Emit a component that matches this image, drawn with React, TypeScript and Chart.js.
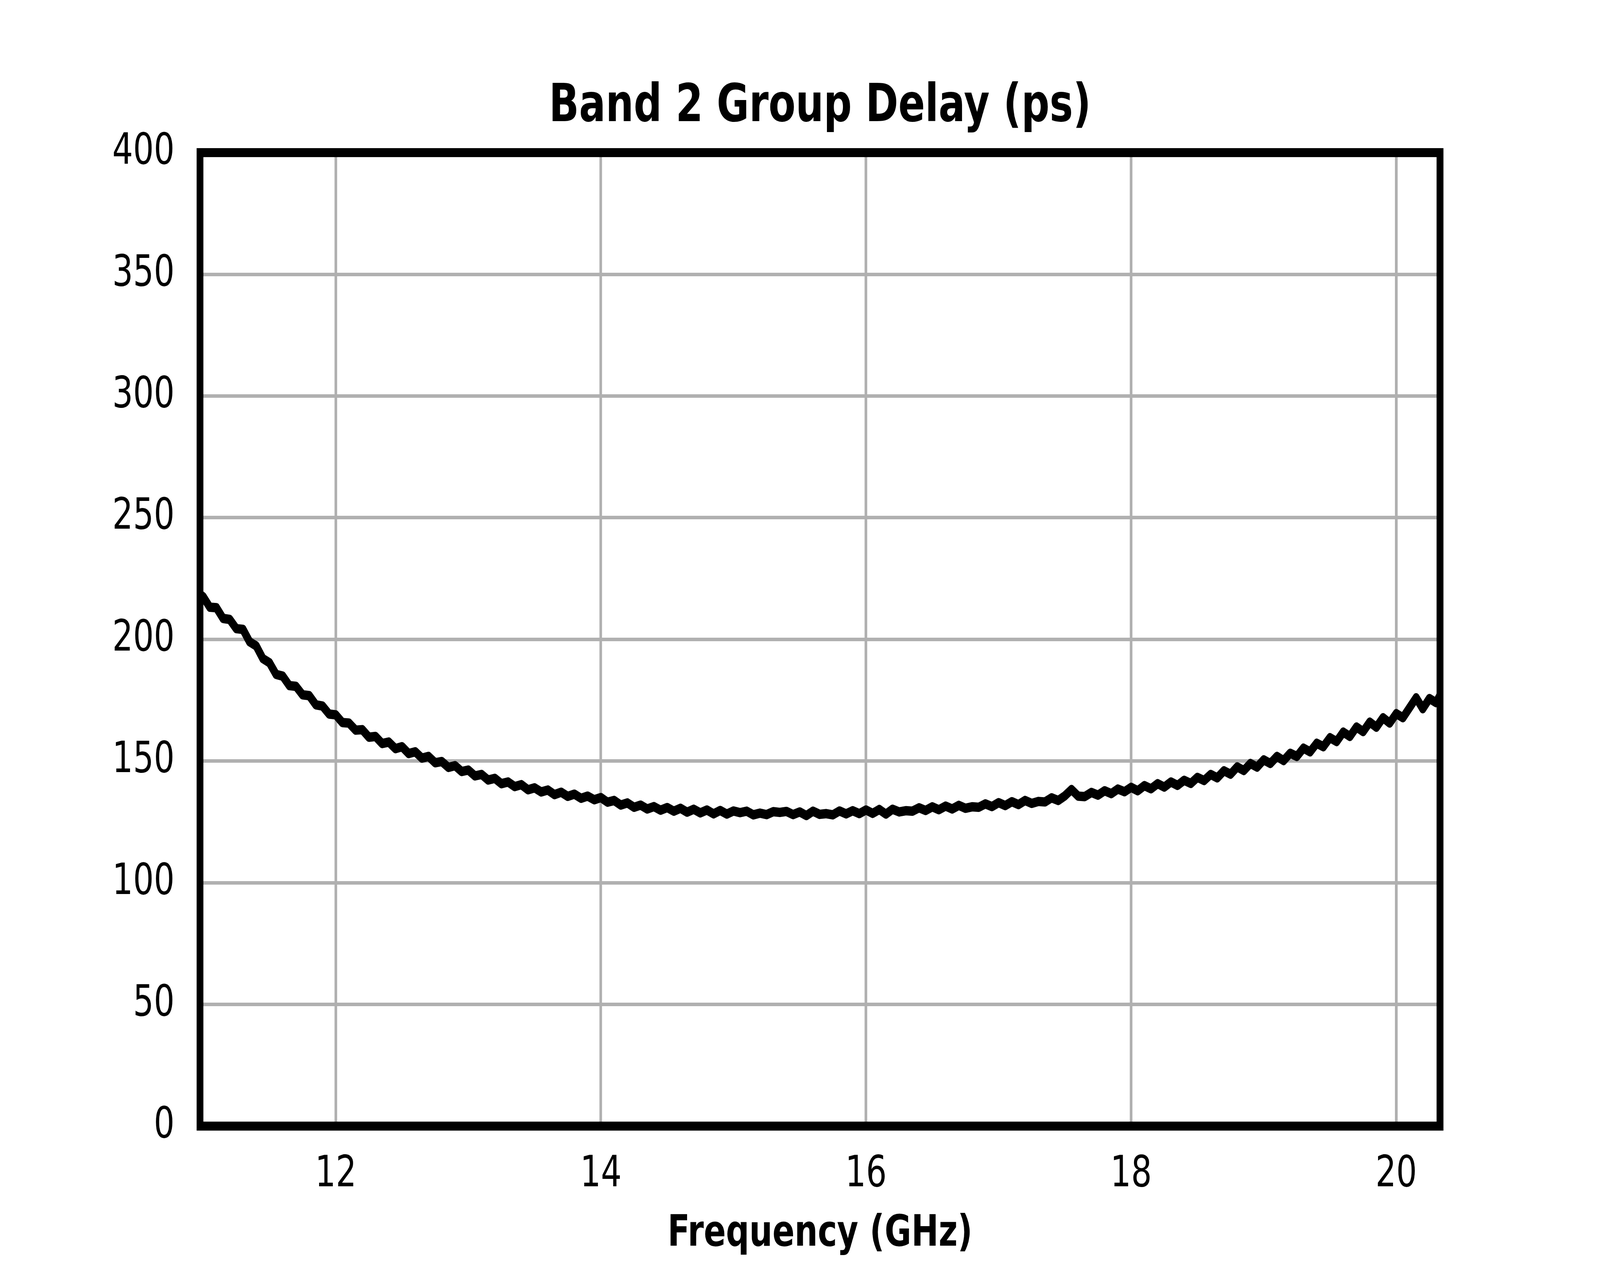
import { useEffect, useRef } from "react";
import { Chart, registerables } from "chart.js";

Chart.register(...registerables);

// Frequency samples (GHz)
const freqGHz = [
  10.976, 11.0, 11.05, 11.1, 11.15, 11.2, 11.25, 11.3, 11.35, 11.4,
  11.45, 11.5, 11.55, 11.6, 11.65, 11.7, 11.75, 11.8, 11.85, 11.9,
  11.95, 12.0, 12.05, 12.1, 12.15, 12.2, 12.25, 12.3, 12.35, 12.4,
  12.45, 12.5, 12.55, 12.6, 12.65, 12.7, 12.75, 12.8, 12.85, 12.9,
  12.95, 13.0, 13.05, 13.1, 13.15, 13.2, 13.25, 13.3, 13.35, 13.4,
  13.45, 13.5, 13.55, 13.6, 13.65, 13.7, 13.75, 13.8, 13.85, 13.9,
  13.95, 14.0, 14.05, 14.1, 14.15, 14.2, 14.25, 14.3, 14.35, 14.4,
  14.45, 14.5, 14.55, 14.6, 14.65, 14.7, 14.75, 14.8, 14.85, 14.9,
  14.95, 15.0, 15.05, 15.1, 15.15, 15.2, 15.25, 15.3, 15.35, 15.4,
  15.45, 15.5, 15.55, 15.6, 15.65, 15.7, 15.75, 15.8, 15.85, 15.9,
  15.95, 16.0, 16.05, 16.1, 16.15, 16.2, 16.25, 16.3, 16.35, 16.4,
  16.45, 16.5, 16.55, 16.6, 16.65, 16.7, 16.75, 16.8, 16.85, 16.9,
  16.95, 17.0, 17.05, 17.1, 17.15, 17.2, 17.25, 17.3, 17.35, 17.4,
  17.45, 17.5, 17.55, 17.6, 17.65, 17.7, 17.75, 17.8, 17.85, 17.9,
  17.95, 18.0, 18.05, 18.1, 18.15, 18.2, 18.25, 18.3, 18.35, 18.4,
  18.45, 18.5, 18.55, 18.6, 18.65, 18.7, 18.75, 18.8, 18.85, 18.9,
  18.95, 19.0, 19.05, 19.1, 19.15, 19.2, 19.25, 19.3, 19.35, 19.4,
  19.45, 19.5, 19.55, 19.6, 19.65, 19.7, 19.75, 19.8, 19.85, 19.9,
  19.95, 20.0, 20.05, 20.1, 20.15, 20.2, 20.25, 20.3, 20.33,
];

// Group delay (ps) at each frequency
const delayPs = [
  218.5, 217.5, 213.2, 213.0, 208.6, 208.2, 204.4, 204.1, 199.0, 197.3,
  192.1, 190.4, 185.6, 184.9, 181.0, 180.7, 177.2, 176.9, 173.1, 172.6,
  169.3, 169.0, 165.8, 165.6, 162.7, 162.9, 159.8, 160.1, 157.2, 157.8,
  155.1, 155.9, 153.1, 153.8, 151.2, 151.9, 149.3, 149.8, 147.4, 148.1,
  145.7, 146.3, 143.9, 144.5, 142.2, 142.9, 140.7, 141.4, 139.5, 140.3,
  138.2, 139.0, 137.3, 138.1, 136.2, 137.2, 135.5, 136.4, 134.7, 135.6,
  134.1, 135.0, 133.1, 133.8, 131.9, 132.8, 131.0, 131.9, 130.3, 131.3,
  129.8, 130.9, 129.4, 130.6, 129.0, 130.2, 128.7, 129.9, 128.3, 129.7,
  128.2, 129.5, 128.8, 129.4, 127.9, 128.6, 128.0, 129.2, 128.9, 129.3,
  128.0, 129.1, 127.6, 129.4, 128.1, 128.4, 127.9, 129.5, 128.3, 129.6,
  128.4, 129.9, 128.5, 130.1, 128.2, 130.2, 129.1, 129.6, 129.4, 130.8,
  129.7, 131.2, 130.0, 131.5, 130.3, 131.8, 130.6, 131.2, 131.0, 132.4,
  131.3, 132.9, 131.7, 133.3, 132.1, 133.8, 132.6, 133.4, 133.2, 134.9,
  133.8, 135.7, 138.3, 135.6, 135.4, 137.1, 136.0, 137.8, 136.6, 138.5,
  137.4, 139.2, 137.8, 139.9, 138.6, 140.7, 139.3, 141.4, 140.0, 142.1,
  140.8, 143.3, 142.0, 144.5, 143.1, 146.0, 144.6, 147.6, 146.1, 149.0,
  147.5, 150.5, 149.0, 151.9, 150.2, 153.2, 151.9, 155.3, 153.8, 157.3,
  155.9, 159.6, 158.0, 161.9, 160.1, 164.0, 162.1, 166.0, 163.9, 167.8,
  165.6, 169.5, 167.8, 171.9, 176.0, 171.5, 175.7, 174.0, 177.0,
];

const xTicks = [12, 14, 16, 18, 20];
const yTicks = [0, 50, 100, 150, 200, 250, 300, 350, 400];

// black box round the plot, drawn over the trace like matplotlib spines
const framePlugin = {
  id: "frame",
  afterDatasetsDraw(chart: Chart) {
    const { ctx, chartArea } = chart;
    ctx.save();
    ctx.strokeStyle = "#000000";
    ctx.lineWidth = 23;
    ctx.lineJoin = "miter";
    ctx.strokeRect(
      chartArea.left,
      chartArea.top,
      chartArea.right - chartArea.left,
      chartArea.bottom - chartArea.top
    );
    ctx.restore();
  },
};

const GroupDelayChart = () => {
  const chartRef = useRef<HTMLCanvasElement>(null);
  const chartInstance = useRef<Chart | null>(null);

  useEffect(() => {
    if (!chartRef.current) return;
    if (chartInstance.current) chartInstance.current.destroy();

    const ctx = chartRef.current.getContext("2d");
    if (!ctx) return;

    Chart.defaults.font.family = "'DejaVu Sans', sans-serif";
    Chart.defaults.color = "#000000";

    // drawn in a fixed 5400x3240 pixel space, stretched to the window by CSS
    chartInstance.current = new Chart(ctx, {
      type: "line",
      data: {
        datasets: [
          {
            data: freqGHz.map((f, i) => ({ x: f, y: delayPs[i] })),
            borderColor: "#000000",
            borderWidth: 24,
            borderJoinStyle: "round",
            borderCapStyle: "round",
            pointRadius: 0,
            tension: 0,
            fill: false,
          },
        ],
      },
      options: {
        animation: false,
        responsive: false,
        devicePixelRatio: 1,
        layout: { padding: { left: 0, right: 540, top: 0, bottom: 0 } },
        plugins: {
          legend: { display: false },
          tooltip: { enabled: false },
          title: {
            display: true,
            text: "Band 2 Group Delay (ps)",
            fullSize: false,
            color: "#000000",
            font: { size: 133, weight: "bold", lineHeight: 1.2 },
            padding: { top: 196, bottom: 35 },
          },
        },
        scales: {
          x: {
            type: "linear",
            min: 10.976,
            max: 20.33,
            afterBuildTicks: (scale) => {
              scale.ticks = xTicks.map((value) => ({ value }));
            },
            afterFit: (scale) => {
              scale.height = 358;
            },
            grid: { color: "#b0b0b0", lineWidth: 9, drawTicks: false },
            border: { display: false },
            ticks: {
              color: "#000000",
              font: { size: 110, lineHeight: 1.2 },
              padding: 59,
              autoSkip: false,
              maxRotation: 0,
            },
            title: {
              display: true,
              text: "Frequency (GHz)",
              color: "#000000",
              font: { size: 110, weight: "bold", lineHeight: 1.2 },
              padding: { top: 0, bottom: 15 },
            },
          },
          y: {
            type: "linear",
            min: 0,
            max: 400,
            afterBuildTicks: (scale) => {
              scale.ticks = yTicks.map((value) => ({ value }));
            },
            afterFit: (scale) => {
              scale.width = 675;
            },
            grid: { color: "#b0b0b0", lineWidth: 9, drawTicks: false },
            border: { display: false },
            ticks: {
              color: "#000000",
              font: { size: 110, lineHeight: 1.2 },
              padding: 86,
            },
          },
        },
      },
      plugins: [framePlugin],
    });

    return () => {
      if (chartInstance.current) {
        chartInstance.current.destroy();
        chartInstance.current = null;
      }
    };
  }, []);

  return (
    <div
      style={{
        position: "fixed",
        left: 0,
        top: 0,
        width: "100vw",
        height: "100vh",
        background: "#ffffff",
        overflow: "hidden",
      }}
    >
      <canvas
        ref={chartRef}
        width={5400}
        height={3240}
        style={{ width: "100vw", height: "100vh", display: "block" }}
      />
    </div>
  );
};

export default function App() {
  return <GroupDelayChart />;
}
